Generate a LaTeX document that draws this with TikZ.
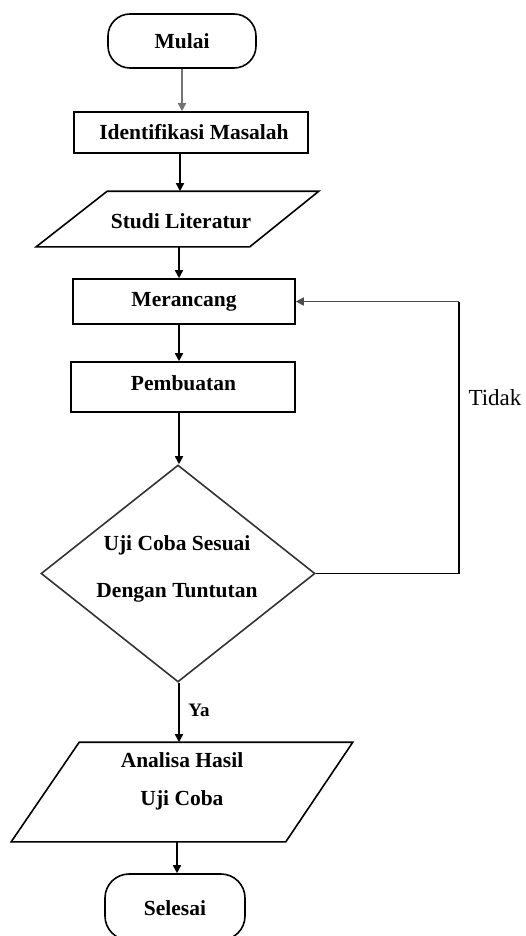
\documentclass[tikz,border=0pt]{standalone}
\usepackage{fontspec}
\setmainfont{Liberation Serif}
\usetikzlibrary{arrows.meta,shapes.geometric,calc}

\begin{document}
\begin{tikzpicture}[x=1pt,y=-1pt,line width=1.6pt,
  lbl/.style={font=\bfseries\fontsize{21.5}{26}\selectfont, inner sep=0pt},
  box/.style={lbl, draw, rectangle},
  term/.style={lbl, draw, rectangle, rounded corners=22pt},
  frame/.style={rectangle, inner sep=0pt},
  arr/.style={-{Triangle[length=8pt,width=8pt]}},
]
\useasboundingbox (0,0) rectangle (525,936);
\clip (0,0) rectangle (525,936);

% spines for the vertical flow arrows
\coordinate (colA) at (182,0);
\coordinate (colB) at (180,0);
\coordinate (colC) at (179,0);
\coordinate (colD) at (177,0);

% start
\node[term, minimum width=148pt, minimum height=54pt] (mulai) at (182,41) {Mulai};

% process steps
\node[box, minimum width=234pt, minimum height=41pt] (ident) at (191,132.5) {};
\node[lbl] (identtxt) at (194,132) {Identifikasi Masalah};

\node[frame, minimum width=281pt, minimum height=54pt] (studi) at (177.5,219) {};
\draw ($(studi.north west)+(71,0)$) -- (studi.north east)
  -- ($(studi.south east)+(-69,0)$) -- (studi.south west) -- cycle;
\node[lbl] (studitxt) at (181,221) {Studi Literatur};

\node[box, minimum width=222pt, minimum height=45pt] (meran) at (184,301.5) {Merancang};
\node[box, minimum width=224pt, minimum height=50pt] (pemb) at (183,387) {};
\node[lbl] (pembtxt) at (183.5,383) {Pembuatan};

% decision
\node[draw=black!80, diamond, inner sep=0pt, minimum width=274pt, minimum height=217pt] (dec) at (178,573.5) {};
\node[lbl, align=center, font=\bfseries\fontsize{21.5}{47}\selectfont] (dectxt) at (177,569) {Uji Coba Sesuai\\Dengan Tuntutan};

% result
\node[frame, minimum width=340pt, minimum height=98pt] (analisa) at (182,792) {};
\draw ($(analisa.north west)+(68,0)$) -- (analisa.north east)
  -- ($(analisa.south east)+(-67,0)$) -- (analisa.south west) -- cycle;
\node[lbl, align=center, font=\bfseries\fontsize{21.5}{38}\selectfont] (analisatxt) at (182,781) {Analisa Hasil\\Uji Coba};

% end
\node[term, rounded corners=24pt, minimum width=140pt, minimum height=66pt] (selesai) at (175,907) {};
\node[lbl] (selesaitxt) at (175,908) {Selesai};

% flow arrows
\draw[arr, draw=black!55, fill=black] (mulai.south -| colA) -- (ident.north -| colA);
\draw[arr] (ident.south -| colB) -- (studi.north -| colB);
\draw[arr] (studi.south -| colC) -- (meran.north -| colC);
\draw[arr] (meran.south -| colC) -- (pemb.north -| colC);
\draw[arr] (pemb.south -| colC) -- (dec.north -| colC);
\draw[arr] (dec.south -| colC) -- (analisa.north -| colC);
\draw[arr] (analisa.south -| colD) -- (selesai.north -| colD);

% loop back when the test fails
\coordinate (corner) at (459,301.5);
\draw (dec.east) -| (corner);
\draw[arr, draw=black!70, fill=black] (corner) -- (meran.east);

% branch labels
\node[font=\bfseries\fontsize{19}{23}\selectfont, inner sep=0pt] (ya) at (199,710) {Ya};
\node[font=\fontsize{23}{27}\selectfont, inner sep=0pt] (tidak) at (495,398) {Tidak};
\end{tikzpicture}
\end{document}
